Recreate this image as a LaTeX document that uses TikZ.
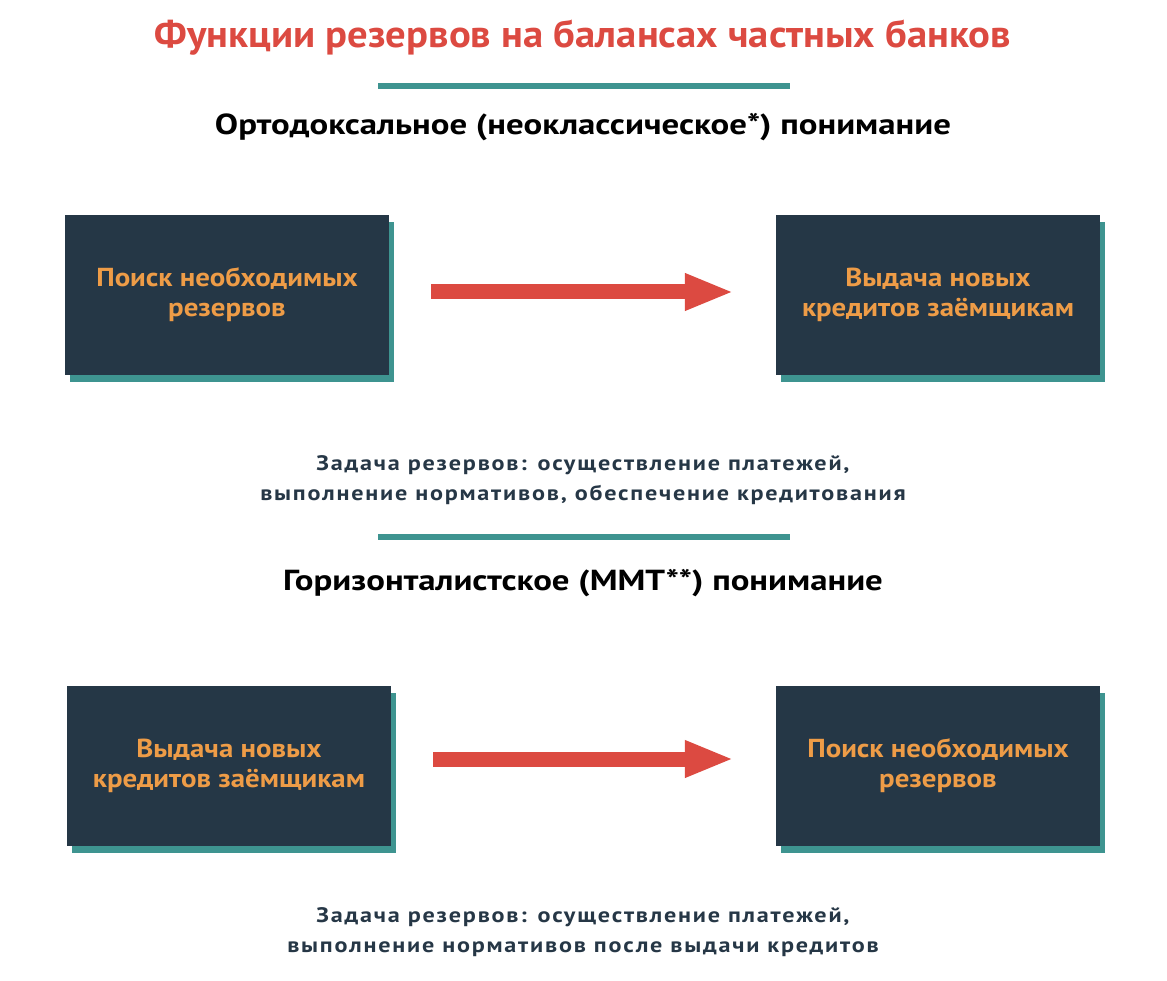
\documentclass[tikz,border=0pt]{standalone}
\usepackage{fontspec}
\setmainfont{PT Sans}
\newfontfamily\titlef[FakeStretch=1.07]{PT Sans}
\newfontfamily\subf[FakeStretch=1.20]{PT Sans}
\newfontfamily\boxf[FakeStretch=1.11]{PT Sans}
\newfontfamily\capf[FakeStretch=1.15,LetterSpace=8.5]{PT Sans}
\usetikzlibrary{arrows.meta,shadows}
\definecolor{navyc}{HTML}{253746}
\definecolor{tealc}{HTML}{3E9490}
\definecolor{orangec}{HTML}{EE9C47}
\definecolor{redc}{HTML}{DC4A41}
\definecolor{capc}{HTML}{263746}
\tikzset{
  stepbox/.style={fill=navyc, minimum width=324pt, minimum height=160pt, inner sep=0pt,
    text=orangec, align=center, font=\boxf\fontsize{26}{30}\selectfont\bfseries,
    drop shadow={fill=tealc, opacity=1, shadow xshift=5pt, shadow yshift=-7pt}},
  bigarrow/.style={draw=redc, line width=15pt, -{Triangle[length=49pt,width=34pt]},
    shorten <=42pt, shorten >=42pt},
  titletext/.style={text=redc, font=\titlef\fontsize{38}{44}\selectfont\bfseries},
  subtext/.style={text=black, font=\subf\fontsize{29}{32}\selectfont\bfseries},
  captext/.style={text=capc, align=center, font=\capf\fontsize{21}{30}\selectfont\bfseries},
  rule/.style={draw=tealc, line width=6pt}
}
\begin{document}
\begin{tikzpicture}[x=1pt,y=-1pt]
\useasboundingbox (0,0) rectangle (1167,981);
\node[titletext] (title) at (583,38) {Функции резервов на балансах частных банков};
\coordinate (r1a) at (378,86); \coordinate (r1b) at (790,86);
\draw[rule] (r1a) -- (r1b);
\node[subtext] (sub1) at (583,127) {Ортодоксальное (неоклассическое*) понимание};
\node[stepbox] (b1) at (227,295) {Поиск необходимых\\резервов};
\node[stepbox] (b2) at (938,295) {Выдача новых\\кредитов заёмщикам};
\draw[bigarrow] ([yshift=3pt]b1.east) -- ([yshift=3pt]b2.west);
\node[captext] (cap1) at (583,480) {Задача резервов: осуществление платежей,\\выполнение нормативов, обеспечение кредитования};
\coordinate (r2a) at (378,537); \coordinate (r2b) at (790,537);
\draw[rule] (r2a) -- (r2b);
\node[subtext] (sub2) at (583,583) {Горизонталистское (MMT**) понимание};
\node[stepbox] (b3) at (229,766) {Выдача новых\\кредитов заёмщикам};
\node[stepbox] (b4) at (938,766) {Поиск необходимых\\резервов};
\draw[bigarrow] ([yshift=7pt]b3.east) -- ([yshift=7pt]b4.west);
\node[captext] (cap2) at (583,932) {Задача резервов: осуществление платежей,\\выполнение нормативов после выдачи кредитов};
\end{tikzpicture}
\end{document}
